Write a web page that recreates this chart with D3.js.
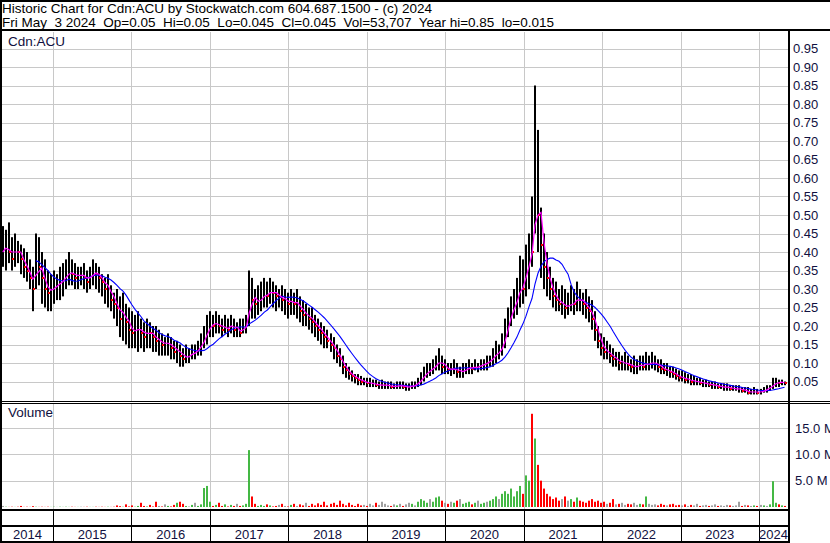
<!DOCTYPE html>
<html>
<head>
<meta charset="utf-8">
<script src="https://cdn.jsdelivr.net/npm/d3@7"></script>
<style>
body { margin: 0; background: #fff; }
svg { display: block; font-family: "Liberation Sans", Arial, sans-serif; }
</style>
</head>
<body>
<script>
// header text
const title = "Historic Chart for Cdn:ACU by Stockwatch.com 604.687.1500 - (c) 2024";
const subtitle = "Fri May  3 2024  Op=0.05  Hi=0.05  Lo=0.045  Cl=0.045  Vol=53,707  Year hi=0.85  lo=0.015";
const symbol = "Cdn:ACU";

// one bar per two weeks, starting here
const startDate = new Date(2014, 4, 12);

const hi = [
  .47,.46,.48,.44,.45,.43,.42,.41,.40,.38,
  .36,.45,.44,.40,.38,.35,.34,.35,.34,.36,
  .37,.38,.40,.38,.37,.36,.36,.37,.35,.36,
  .38,.37,.36,.34,.33,.34,.31,.29,.30,.28,
  .29,.26,.25,.24,.23,.24,.22,.21,.22,.21,
  .20,.20,.19,.18,.17,.18,.17,.16,.16,.15,
  .14,.15,.14,.15,.15,.16,.18,.20,.23,.24,
  .23,.24,.23,.22,.23,.22,.23,.22,.21,.22,
  .22,.23,.35,.33,.30,.31,.32,.33,.32,.33,
  .32,.31,.30,.31,.30,.29,.30,.29,.30,.28,
  .27,.26,.25,.25,.23,.22,.21,.20,.19,.18,
  .17,.15,.14,.12,.10,.09,.08,.07,.07,.065,
  .06,.06,.06,.055,.055,.05,.055,.05,.05,.05,
  .045,.05,.05,.05,.045,.045,.05,.05,.06,.075,
  .09,.10,.10,.11,.12,.14,.12,.11,.10,.10,
  .11,.10,.09,.10,.10,.11,.10,.11,.10,.11,
  .11,.12,.12,.14,.16,.15,.18,.22,.25,.28,
  .30,.33,.39,.38,.42,.45,.55,.85,.73,.52,
  .45,.40,.36,.33,.32,.30,.31,.30,.29,.31,
  .30,.32,.30,.29,.30,.28,.27,.24,.20,.18,
  .17,.16,.15,.14,.13,.13,.12,.13,.12,.11,
  .12,.11,.12,.12,.13,.12,.13,.12,.11,.11,
  .10,.10,.09,.09,.085,.08,.08,.075,.07,.07,
  .065,.06,.06,.055,.055,.05,.05,.05,.045,.045,
  .045,.045,.04,.04,.04,.04,.035,.035,.035,.03,
  .035,.03,.03,.035,.04,.04,.06,.06,.055,.055,
  .05
];

const lo = [
  .36,.35,.37,.35,.36,.37,.34,.33,.32,.30,
  .24,.30,.31,.26,.25,.24,.24,.26,.27,.27,
  .28,.30,.31,.31,.30,.30,.31,.30,.29,.30,
  .31,.30,.29,.28,.26,.25,.24,.22,.20,.17,
  .16,.15,.14,.14,.14,.13,.14,.13,.14,.14,
  .13,.13,.12,.12,.12,.12,.11,.11,.10,.09,
  .09,.10,.10,.11,.11,.12,.12,.14,.15,.17,
  .17,.18,.18,.17,.18,.17,.18,.17,.17,.17,
  .18,.18,.20,.22,.22,.23,.24,.25,.25,.26,
  .25,.24,.25,.24,.23,.22,.23,.23,.22,.21,
  .20,.20,.19,.18,.17,.16,.15,.14,.14,.13,
  .11,.10,.09,.07,.06,.055,.05,.045,.04,.04,
  .04,.035,.035,.035,.035,.03,.03,.03,.03,.03,
  .03,.03,.03,.03,.025,.025,.03,.03,.035,.04,
  .05,.06,.065,.07,.08,.08,.07,.07,.07,.065,
  .07,.06,.06,.06,.07,.07,.07,.08,.075,.08,
  .08,.08,.09,.09,.10,.11,.12,.14,.17,.20,
  .22,.23,.25,.26,.28,.30,.36,.45,.40,.33,
  .30,.28,.27,.25,.24,.24,.23,.22,.23,.24,
  .23,.24,.24,.23,.22,.21,.19,.16,.14,.12,
  .11,.11,.10,.09,.09,.08,.08,.08,.08,.075,
  .07,.07,.08,.08,.08,.08,.085,.08,.075,.07,
  .07,.065,.06,.06,.055,.05,.05,.045,.045,.04,
  .04,.04,.04,.035,.035,.035,.03,.03,.03,.03,
  .025,.025,.025,.025,.025,.02,.02,.02,.015,.015,
  .015,.015,.015,.02,.02,.025,.03,.035,.035,.04,
  .04
];

const cl = [
  .40,.42,.40,.38,.42,.40,.38,.36,.35,.33,
  .30,.38,.36,.33,.30,.29,.30,.31,.31,.32,
  .33,.34,.35,.34,.33,.34,.34,.33,.32,.34,
  .35,.34,.33,.32,.30,.31,.27,.26,.25,.22,
  .24,.21,.19,.18,.19,.20,.18,.17,.19,.18,
  .17,.16,.16,.15,.15,.16,.14,.13,.14,.12,
  .11,.12,.12,.13,.13,.14,.16,.17,.20,.21,
  .20,.21,.20,.19,.20,.19,.21,.19,.19,.18,
  .20,.21,.30,.27,.26,.27,.28,.29,.28,.30,
  .29,.28,.28,.27,.27,.26,.27,.26,.26,.24,
  .23,.23,.22,.21,.20,.19,.18,.17,.16,.15,
  .14,.12,.11,.09,.08,.07,.065,.06,.055,.05,
  .05,.045,.045,.045,.04,.04,.04,.04,.04,.035,
  .035,.04,.04,.035,.035,.035,.04,.04,.05,.06,
  .07,.08,.08,.09,.10,.11,.09,.09,.08,.08,
  .09,.075,.075,.08,.085,.09,.085,.09,.09,.095,
  .10,.10,.11,.12,.13,.13,.15,.19,.22,.25,
  .26,.28,.33,.30,.36,.42,.40,.60,.50,.42,
  .36,.33,.30,.28,.27,.26,.26,.25,.25,.27,
  .26,.28,.27,.26,.25,.24,.22,.19,.16,.14,
  .13,.13,.12,.11,.11,.10,.10,.10,.095,.09,
  .09,.09,.10,.09,.10,.10,.10,.10,.09,.085,
  .08,.08,.075,.07,.065,.06,.06,.055,.055,.05,
  .05,.05,.045,.045,.045,.04,.04,.04,.035,.035,
  .035,.035,.03,.03,.03,.03,.025,.025,.02,.02,
  .025,.02,.02,.03,.03,.035,.045,.05,.045,.05,
  .045
];

// biggest daily volume in each two-week period, millions
const vol = [
  .2,.05,.02,.05,.02,.05,.2,.02,.05,.02,
  .15,.05,.02,.05,.02,.05,.02,.05,.02,.05,
  .02,.05,.02,.05,.02,.02,.05,.02,.05,.02,
  .02,.05,.02,.05,.02,.05,.02,.05,.3,.15,
  .05,.5,.1,.3,.05,.2,.8,.2,.1,.4,
  .1,1.0,.2,.1,.5,.2,.1,.4,.8,1.0,
  .6,.2,.1,.4,.8,.2,.5,3.6,4.0,1.0,
  .2,.4,.8,.2,.5,.1,.4,.2,.6,.2,
  .3,.6,10.8,2.0,.6,.2,.4,.2,.5,.3,
  .1,.2,.4,.6,.2,.1,.4,.6,.2,.5,
  .3,.8,.2,.6,.3,.7,.4,1.0,.3,.6,
  .8,.4,1.2,.6,.3,.8,.4,.2,.6,.3,
  .4,.2,.6,.3,.8,.4,1.0,.6,.3,.2,
  .5,.3,.6,.2,.5,.8,.6,.3,1.0,1.5,
  1.2,.8,1.5,1.0,1.8,2.0,1.2,.8,.6,1.0,
  .8,1.2,1.5,.6,.8,1.0,.5,.8,1.2,.6,
  .8,1.0,1.2,1.5,2.0,1.5,2.5,3.0,2.5,3.5,
  2.0,3.0,4.0,2.5,6.0,5.0,17.7,13.0,8.0,5.0,
  3.5,2.5,2.0,1.5,1.8,1.2,1.5,2.0,1.2,1.5,
  1.0,1.8,1.2,1.0,.8,1.2,1.5,1.0,1.2,.8,
  1.0,.6,.8,1.5,.5,.6,.8,.4,.6,.5,
  .8,.4,.6,.5,2.0,.6,.4,.5,.3,.6,
  .4,.3,.5,.6,.3,.4,.3,.5,.2,.4,
  .3,.6,.2,.3,.4,.2,.3,.5,.2,.3,
  .2,.4,.3,.2,.3,1.0,.2,.4,.3,.2,
  .3,.2,.4,.3,.2,.5,4.9,.8,.5,.3,
  .2
];

const priceTicks = [0.05,0.10,0.15,0.20,0.25,0.30,0.35,0.40,0.45,0.50,
                    0.55,0.60,0.65,0.70,0.75,0.80,0.85,0.90,0.95];
const volTicks = [5, 10, 15];
const years = [2014,2015,2016,2017,2018,2019,2020,2021,2022,2023,2024];

const shortLen = 3;   // ~30 day average (magenta)
const longLen = 12;   // ~120 day average (blue)

drawChart();

function movingAvg(values, n, partial) {
	let out = [];
	for (let i = 0; i < values.length; i++) {
		if (i < n - 1 && !partial) { out.push(null); continue; }
		out.push(d3.mean(values.slice(Math.max(0, i - n + 1), i + 1)));
	}
	return out;
}

function drawChart() {
	const W = 830, H = 543;
	const plotL = 2, plotR = 788;
	const axisX = 789;

	let svg = d3.select('body').append('svg')
		.attr('width', W)
		.attr('height', H);
	svg.append('rect').attr('width', W).attr('height', H).attr('fill', '#fff');

	let dates = cl.map((d, i) => d3.timeDay.offset(startDate, 14 * i));
	let bars = cl.map((d, i) => ({
		date: dates[i], hi: hi[i], lo: lo[i], cl: cl[i], vol: vol[i],
		dir: i == 0 ? 0 : Math.sign(cl[i] - cl[i - 1])
	}));

	let x = d3.scaleTime()
		.domain([new Date(2015, 0, 1), new Date(2024, 0, 1)])
		.range([53, 759]);
	let y = d3.scaleLinear().domain([0, 1]).range([400, 30]);
	let yv = d3.scaleLinear().domain([0, 15]).range([507, 428]);

	let yearX = years.map(yr => Math.max(plotL, Math.min(plotR, x(new Date(yr, 0, 1)))));
	let yearEnd = years.map(yr => Math.min(plotR, x(new Date(yr + 1, 0, 1))));

	// clip regions
	let defs = svg.append('defs');
	defs.append('clipPath').attr('id', 'clipPrice')
		.append('rect').attr('x', plotL).attr('y', 32).attr('width', plotR - plotL).attr('height', 368);
	defs.append('clipPath').attr('id', 'clipVol')
		.append('rect').attr('x', plotL).attr('y', 405).attr('width', plotR - plotL).attr('height', 104);

	//grid
	let grid = svg.append('g').attr('stroke', '#c8c8c8').attr('stroke-width', 1);
	grid.selectAll('line.hp').data(priceTicks).join('line')
		.attr('x1', plotL).attr('x2', plotR)
		.attr('y1', d => Math.round(y(d)) + 0.5).attr('y2', d => Math.round(y(d)) + 0.5);
	grid.selectAll('line.hv').data(volTicks).join('line')
		.attr('class', 'hv')
		.attr('x1', plotL).attr('x2', plotR)
		.attr('y1', d => Math.round(yv(d)) + 0.5).attr('y2', d => Math.round(yv(d)) + 0.5);
	let yearLines = years.slice(1);
	grid.selectAll('line.vp').data(yearLines).join('line')
		.attr('class', 'vp')
		.attr('x1', d => Math.round(x(new Date(d, 0, 1))) + 0.5)
		.attr('x2', d => Math.round(x(new Date(d, 0, 1))) + 0.5)
		.attr('y1', 32).attr('y2', 401);
	grid.selectAll('line.vv').data(yearLines).join('line')
		.attr('class', 'vv')
		.attr('x1', d => Math.round(x(new Date(d, 0, 1))) + 0.5)
		.attr('x2', d => Math.round(x(new Date(d, 0, 1))) + 0.5)
		.attr('y1', 404).attr('y2', 510);

	//price bars
	let price = svg.append('g').attr('clip-path', 'url(#clipPrice)');
	price.selectAll('rect.bar').data(bars).join('rect')
		.attr('class', 'bar')
		.attr('x', d => Math.round(x(d.date)) - 1)
		.attr('width', 2)
		.attr('y', d => y(d.hi))
		.attr('height', d => y(d.lo) - y(d.hi))
		.attr('fill', '#000');
	price.selectAll('rect.tick').data(bars.filter(d => d.dir < 0)).join('rect')
		.attr('class', 'tick')
		.attr('x', d => Math.round(x(d.date)))
		.attr('width', 2)
		.attr('y', d => Math.round(y(d.cl)) - 1)
		.attr('height', 2)
		.attr('fill', '#ff0000');

	//moving averages
	let maShort = movingAvg(cl, shortLen, true);
	let maLong = movingAvg(cl, longLen, false);
	let line = d3.line()
		.defined(d => d[1] != null)
		.x(d => x(d[0]))
		.y(d => y(d[1]));
	price.append('path')
		.attr('d', line(dates.map((d, i) => [d, maLong[i]])))
		.attr('fill', 'none').attr('stroke', '#0000ff').attr('stroke-width', 1.1);
	price.append('path')
		.attr('d', line(dates.map((d, i) => [d, maShort[i]])))
		.attr('fill', 'none').attr('stroke', '#ff00ff').attr('stroke-width', 1.2);

	//volume bars
	let volColor = d => d.dir > 0 ? '#44b844' : d.dir < 0 ? '#ff0000' : '#a0a0a0';
	svg.append('g').attr('clip-path', 'url(#clipVol)')
		.selectAll('rect').data(bars).join('rect')
		.attr('x', d => Math.round(x(d.date)) - 1)
		.attr('width', 2)
		.attr('y', d => yv(d.vol))
		.attr('height', d => yv(0) - yv(d.vol))
		.attr('fill', volColor);

	//frame
	let frame = svg.append('g').attr('fill', '#000');
	frame.append('rect').attr('x', 0).attr('y', 0).attr('width', W).attr('height', 2);
	frame.append('rect').attr('x', 0).attr('y', 0).attr('width', 2).attr('height', H);
	frame.append('rect').attr('x', 0).attr('y', 29).attr('width', W).attr('height', 2);
	frame.append('rect').attr('x', axisX - 1).attr('y', 29).attr('width', 2).attr('height', H - 29);
	frame.append('rect').attr('x', 0).attr('y', 401).attr('width', W).attr('height', 1);
	frame.append('rect').attr('x', 0).attr('y', 403).attr('width', W).attr('height', 1);
	frame.append('rect').attr('x', 0).attr('y', 509).attr('width', axisX).attr('height', 2);
	frame.append('rect').attr('x', 0).attr('y', 525).attr('width', axisX).attr('height', 2);
	frame.append('rect').attr('x', 0).attr('y', 541).attr('width', axisX).attr('height', 2);
	frame.selectAll('rect.sep').data(yearLines).join('rect')
		.attr('class', 'sep')
		.attr('x', d => Math.round(x(new Date(d, 0, 1))))
		.attr('y', 510).attr('width', 1).attr('height', 32);

	//texts
	svg.append('text').attr('x', 2).attr('y', 12.5)
		.style('font-size', '13.5px').attr('fill', '#000').text(title);
	svg.append('text').attr('x', 2).attr('y', 26.5)
		.style('font-size', '13.5px').style('white-space', 'pre').attr('fill', '#000').text(subtitle);
	svg.append('text').attr('x', 8).attr('y', 46)
		.style('font-size', '13.5px').attr('fill', '#101040').text(symbol);
	svg.append('text').attr('x', 8).attr('y', 417)
		.style('font-size', '13.5px').attr('fill', '#101040').text('Volume');

	//price axis
	svg.append('g')
		.attr('transform', 'translate(' + (axisX + 1) + ',0)')
		.call(d3.axisRight(y).tickValues(priceTicks).tickSize(0).tickPadding(3)
			.tickFormat(d3.format('.2f')))
		.call(g => g.select('.domain').remove())
		.call(g => g.selectAll('text')
			.style('font-family', '"Liberation Sans", Arial, sans-serif')
			.style('font-size', '13px').attr('fill', '#101040'));

	//volume axis (labels run past the window edge, as in the original)
	svg.append('g')
		.attr('transform', 'translate(' + (axisX + 3) + ',0)')
		.call(d3.axisRight(yv).tickValues(volTicks).tickSize(0).tickPadding(3)
			.tickFormat(d => d.toFixed(1) + ' M'))
		.call(g => g.select('.domain').remove())
		.call(g => g.selectAll('text')
			.style('font-family', '"Liberation Sans", Arial, sans-serif')
			.style('font-size', '13px').attr('fill', '#101040'));

	//year labels
	svg.append('g').selectAll('text').data(years).join('text')
		.attr('x', (d, i) => (yearX[i] + yearEnd[i]) / 2)
		.attr('y', 539)
		.attr('text-anchor', 'middle')
		.style('font-size', '13px')
		.attr('fill', '#101040')
		.text(d => d);
}
</script>
</body>
</html>
